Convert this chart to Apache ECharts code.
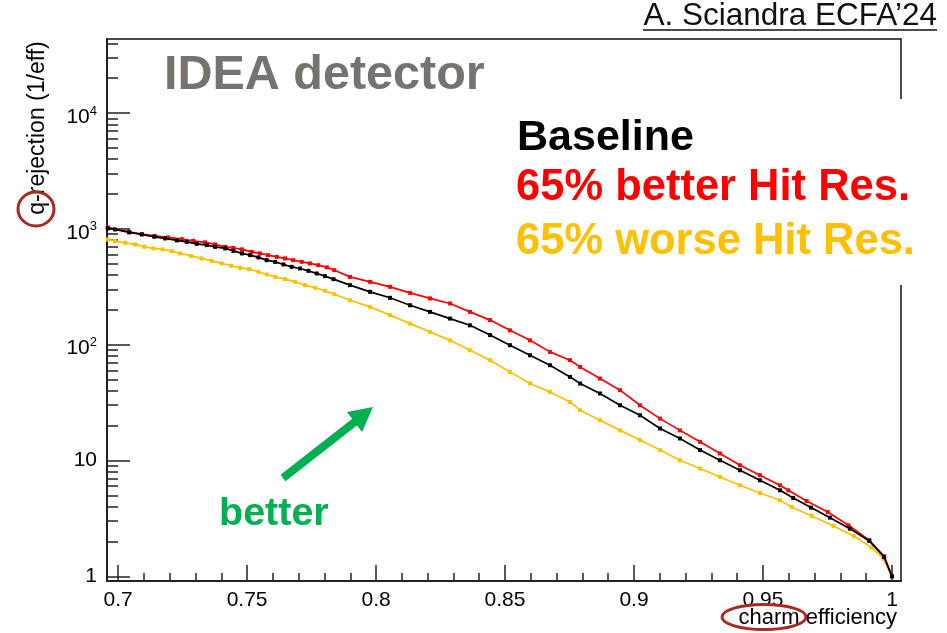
<!DOCTYPE html>
<html><head><meta charset="utf-8">
<script src="https://cdn.jsdelivr.net/npm/echarts@6/dist/echarts.min.js"></script>
<style>html,body{margin:0;padding:0;background:#fff}#c{width:947px;height:633px}</style>
</head><body><div id="c"></div>
<script>
// ---- data ----
const effBaseline = [0.696,0.6988,0.7043,0.7092,0.7141,0.7182,0.7228,0.7266,0.7305,0.7344,0.7376,0.7415,0.7447,0.748,0.7512,0.7544,0.7576,0.7609,0.7641,0.7673,0.7705,0.7738,0.777,0.7802,0.7835,0.7899,0.7977,0.8054,0.8132,0.8209,0.8287,0.8364,0.8442,0.8519,0.8597,0.8674,0.8752,0.8791,0.8868,0.8946,0.9023,0.9101,0.9178,0.9256,0.9333,0.9411,0.9488,0.9566,0.9617,0.9686,0.976,0.9837,0.9912,0.9969,1.0];
const rejBaseline = [1009,989,932,895,854,827,795,773,743,724,700,678,646,614,593,567,537,519,493,470,455,434,412,391,368,327,286,254,219,192,168,147,121,99,81,66.5,52.7,46.2,37.9,30.0,24.6,18.9,15.5,12.3,10.05,8.24,6.75,5.53,4.75,3.92,3.21,2.58,2.02,1.47,1.0];

const effBetter = [0.696,0.7043,0.7092,0.7141,0.7194,0.7247,0.7291,0.7337,0.7376,0.7415,0.7446,0.748,0.7518,0.755,0.7581,0.7615,0.7647,0.7678,0.7712,0.7744,0.7776,0.7809,0.7838,0.7899,0.7977,0.8054,0.8132,0.8209,0.8287,0.8364,0.8442,0.8519,0.8597,0.8674,0.8752,0.8791,0.8868,0.8946,0.9023,0.9101,0.9178,0.9256,0.9333,0.9411,0.9488,0.9566,0.9598,0.9669,0.9751,0.9831,0.9912,0.997,1.0];
const rejBetter = [1031,943,901,871,844,815,788,764,734,700,686,665,633,614,593,573,556,537,519,503,486,465,440,385,349,316,280,251,227,192,163,133,109,86.7,73.5,64.3,51.0,40.5,30.0,23.0,18.2,14.5,11.5,9.10,7.46,6.11,5.53,4.47,3.59,2.76,2.05,1.49,1.0];

const effWorse = [0.696,0.6988,0.7027,0.7066,0.7102,0.7137,0.7172,0.7208,0.724,0.7283,0.7324,0.7363,0.7402,0.7438,0.7473,0.7508,0.7544,0.7576,0.7609,0.7647,0.7686,0.7725,0.7764,0.7802,0.7838,0.7899,0.7977,0.8054,0.8132,0.8209,0.8287,0.8364,0.8442,0.8519,0.8597,0.8674,0.8752,0.8791,0.8868,0.8946,0.9023,0.9101,0.9178,0.9256,0.9333,0.9411,0.9488,0.9566,0.9611,0.9689,0.9773,0.9853,0.9921,0.9966,1.0];
const rejWorse = [811,784,758,734,700,678,665,642,614,585,556,530,503,480,461,449,426,404,385,368,349,327,310,292,273,242,212,180,152,129,109,89.6,73.5,58.2,46.2,39.1,32.0,27.2,22.3,18.2,15.0,12.3,10.05,8.52,7.21,6.11,5.24,4.54,3.97,3.32,2.72,2.22,1.77,1.42,1.0];

const seriesNames = ['Baseline', '65% better Hit Res.', '65% worse Hit Res.'];
const xMajorTicks = [0.7,0.75,0.8,0.85,0.9,0.95,1.0];
const xMinorTicks = [0.71,0.72,0.73,0.74,0.76,0.77,0.78,0.79,0.81,0.82,0.83,0.84,0.86,0.87,0.88,0.89,0.91,0.92,0.93,0.94,0.96,0.97,0.98,0.99];
const yMajorTicks = [1,10,100,1000,10000];
const yMinorTicks = [2,3,4,5,6,7,8,9,20,30,40,50,60,70,80,90,200,300,400,500,600,700,800,900,2000,3000,4000,5000,6000,7000,8000,9000,20000,30000,40000];

const F = 'Liberation Sans, Arial, Helvetica, sans-serif';
const zip = (a, b) => a.map((v, i) => [v, b[i]]);
const X_MIN = 0.6957, X_MAX = 1.0035, Y_MIN = 0.911, Y_MAX = 43600;

function mkSeries(name, eff, rej, color, z) {
  return {
    name, type: 'line', data: zip(eff, rej), xAxisIndex: 0, yAxisIndex: 0,
    symbol: 'rect', symbolSize: 4, showSymbol: true, z,
    lineStyle: { color, width: 1.7 }, itemStyle: { color },
    animation: false, silent: true
  };
}

const chart = echarts.init(document.getElementById('c'), null, { renderer: 'canvas' });
chart.setOption({
  backgroundColor: '#fff',
  animation: false,
  grid: { left: 107, top: 39, right: 46, bottom: 52, show: true, borderColor: '#111', borderWidth: 1.5, backgroundColor: 'transparent' },
  xAxis: [
    { type: 'value', min: X_MIN, max: X_MAX, position: 'bottom',
      axisLine: { show: true, lineStyle: { color: '#222', width: 2 } },
      axisTick: { show: true, inside: true, length: 16, customValues: xMajorTicks, lineStyle: { color: '#222', width: 1.5 } },
      axisLabel: { show: true, customValues: xMajorTicks, margin: 9, fontSize: 21, fontFamily: F, color: '#000',
        formatter: v => String(+(+v).toFixed(2)) },
      splitLine: { show: false } },
    { type: 'value', min: X_MIN, max: X_MAX, position: 'bottom',
      axisLine: { show: false },
      axisTick: { show: true, inside: true, length: 8, customValues: xMinorTicks, lineStyle: { color: '#222', width: 1.5 } },
      axisLabel: { show: false }, splitLine: { show: false } }
  ],
  yAxis: [
    { type: 'log', logBase: 10, min: Y_MIN, max: Y_MAX, position: 'left',
      axisLine: { show: true, lineStyle: { color: '#222', width: 2 } },
      axisTick: { show: true, inside: true, length: 23, customValues: yMajorTicks, lineStyle: { color: '#222', width: 1.5 } },
      axisLabel: { show: true, customValues: yMajorTicks, margin: 10, color: '#000',
        formatter: v => {
          const e = Math.round(Math.log10(v));
          if (e === 0) return '{p|1}';
          if (e === 1) return '{p|10}';
          return '{b|10}{s|' + e + '}';
        },
        rich: {
          p: { fontSize: 21, fontFamily: F, color: '#000' },
          b: { fontSize: 21, fontFamily: F, color: '#000', verticalAlign: 'bottom', padding: [8, 0, 0, 0] },
          s: { fontSize: 13, fontFamily: F, color: '#000', verticalAlign: 'bottom', padding: [0, 0, 10, 0] }
        } },
      splitLine: { show: false } },
    { type: 'log', logBase: 10, min: Y_MIN, max: Y_MAX, position: 'left',
      axisLine: { show: false },
      axisTick: { show: true, inside: true, length: 11, customValues: yMinorTicks, lineStyle: { color: '#222', width: 1.5 } },
      axisLabel: { show: false }, splitLine: { show: false } }
  ],
  series: [
    mkSeries(seriesNames[2], effWorse, rejWorse, '#ffc000', 2),
    mkSeries(seriesNames[1], effBetter, rejBetter, '#ff0000', 3),
    mkSeries(seriesNames[0], effBaseline, rejBaseline, '#000000', 4)
  ],
  graphic: [
    { type: 'rect', z: 50, shape: { x: 508, y: 99, width: 415, height: 186 }, style: { fill: '#fff' } },
    { type: 'text', z: 60, x: 164, y: 76, style: { text: 'IDEA detector', font: 'bold 48.5px ' + F, fill: '#76726f', align: 'left', verticalAlign: 'middle' } },
    { type: 'text', z: 60, x: 517, y: 138, style: { text: seriesNames[0], font: 'bold 43px ' + F, fill: '#000', align: 'left', verticalAlign: 'middle' } },
    { type: 'text', z: 60, x: 516, y: 188, style: { text: seriesNames[1], font: 'bold 43.5px ' + F, fill: '#ff0000', align: 'left', verticalAlign: 'middle' } },
    { type: 'text', z: 60, x: 516, y: 242, style: { text: seriesNames[2], font: 'bold 43.5px ' + F, fill: '#ffc000', align: 'left', verticalAlign: 'middle' } },
    { type: 'text', z: 60, x: 937, y: 16, style: { text: 'A. Sciandra ECFA\u201924', font: '31.5px ' + F, fill: '#111', align: 'right', verticalAlign: 'middle' } },
    { type: 'line', z: 60, shape: { x1: 643, y1: 30, x2: 937, y2: 30 }, style: { stroke: '#111', lineWidth: 1.5 } },
    { type: 'text', z: 60, x: 897, y: 618, style: { text: 'charm efficiency', font: '22px ' + F, fill: '#000', align: 'right', verticalAlign: 'middle' } },
    { type: 'text', z: 60, x: 38, y: 128, rotation: Math.PI / 2, style: { text: 'q-rejection (1/eff)', font: '23px ' + F, fill: '#000', align: 'center', verticalAlign: 'middle' } },
    { type: 'ellipse', z: 61, shape: { cx: 764, cy: 617, rx: 42, ry: 12.5 }, style: { fill: 'none', stroke: '#a8291f', lineWidth: 3 } },
    { type: 'ellipse', z: 61, shape: { cx: 36, cy: 209, rx: 18, ry: 17 }, style: { fill: 'none', stroke: '#a8291f', lineWidth: 3 } },
    { type: 'text', z: 60, x: 219, y: 514, style: { text: 'better', font: 'bold 39.5px ' + F, fill: '#00b050', align: 'left', verticalAlign: 'middle' } },
    { type: 'line', z: 60, shape: { x1: 283, y1: 478, x2: 356, y2: 421 }, style: { stroke: '#00b050', lineWidth: 8 } },
    { type: 'polygon', z: 60, shape: { points: [[373, 407], [362, 432], [347, 412]] }, style: { fill: '#00b050' } }
  ]
});
</script></body></html>
